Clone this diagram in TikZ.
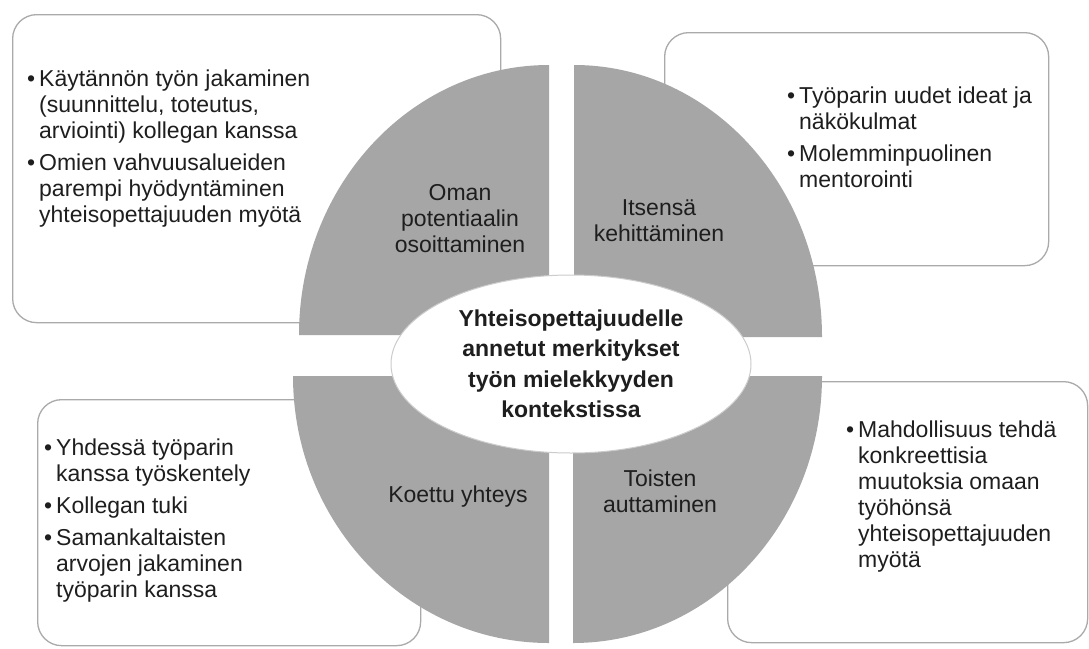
\documentclass[tikz,border=0pt]{standalone}
\usepackage{fontspec}
\setmainfont{Liberation Sans}
\usetikzlibrary{shapes.geometric}
\newcommand\bl{\makebox[12pt][l]{\textbullet}}
\newcommand\il{\hspace*{12pt}}
\definecolor{quadgray}{HTML}{A6A6A6}
\definecolor{boxline}{HTML}{AAAAAA}
\definecolor{txt}{HTML}{1E1E1E}
\tikzset{
  box/.style={draw=boxline, line width=1.3pt, rounded corners=24pt, fill=white, anchor=north west, inner sep=0pt},
  quad/.style={fill=quadgray},
  listtext/.style={anchor=base west, align=left, inner sep=0pt, text=txt, font=\fontsize{23}{26}\selectfont},
  qlabel/.style={anchor=base, align=center, inner sep=0pt, text=txt, font=\fontsize{23}{26}\selectfont},
}
\begin{document}
\begin{tikzpicture}[x=1pt,y=-1pt]
\useasboundingbox (0,0) rectangle (1089,648);
\fill[white] (0,0) rectangle (1089,648);
% boxes
\node[box, minimum width=488pt, minimum height=308pt] (b1) at (12,14) {};
\node[box, minimum width=384pt, minimum height=233pt] (b2) at (664,32) {};
\node[box, minimum width=383pt, minimum height=246pt] (b3) at (37,399) {};
\node[box, minimum width=360pt, minimum height=261pt] (b4) at (727,381) {};
% quadrants
\fill[quad] (549,335) -- (299,335) arc[start angle=180, end angle=270, x radius=250, y radius=270] -- cycle;
\fill[quad] (574,337) -- (574,65) arc[start angle=270, end angle=360, x radius=248, y radius=272] -- cycle;
\fill[quad] (549,376) -- (549,643) arc[start angle=90, end angle=180, x radius=256, y radius=267] -- cycle;
\fill[quad] (573,376) -- (822,376) arc[start angle=0, end angle=90, x radius=249, y radius=267] -- cycle;
% center
\node[ellipse, draw=black!20, line width=1pt, fill=white, minimum width=360pt, minimum height=178pt, inner sep=0pt,
      align=center, text=txt, font=\fontsize{23}{30.5}\selectfont\bfseries] (c) at (571,364)
  {Yhteisopettajuudelle\\annetut merkitykset\\työn mielekkyyden\\kontekstissa};
% quadrant labels (anchored at last baseline)
\node[qlabel] (q1) at (460,252) {Oman\\potentiaalin\\osoittaminen};
\node[qlabel] (q2) at (659,241) {Itsensä\\kehittäminen};
\node[qlabel] (q3) at (458,502) {Koettu yhteys};
\node[qlabel] (q4) at (660,512) {Toisten\\auttaminen};
% lists (anchored at last baseline)
\node[listtext] (t1) at (27,222) {\bl Käytännön työn jakaminen\\\il(suunnittelu, toteutus,\\\il arviointi) kollegan kanssa\\[6pt]\bl Omien vahvuusalueiden\\\il parempi hyödyntäminen\\\il yhteisopettajuuden myötä};
\node[listtext] (t2) at (787,187) {\bl Työparin uudet ideat ja\\\il näkökulmat\\[6pt]\bl Molemminpuolinen\\\il mentorointi};
\node[listtext] (t3) at (44,597) {\bl Yhdessä työparin\\\il kanssa työskentely\\[6pt]\bl Kollegan tuki\\[6pt]\bl Samankaltaisten\\\il arvojen jakaminen\\\il työparin kanssa};
\node[listtext] (t4) at (846,567) {\bl Mahdollisuus tehdä\\\il konkreettisia\\\il muutoksia omaan\\\il työhönsä\\\il yhteisopettajuuden\\\il myötä};
\end{tikzpicture}
\end{document}
